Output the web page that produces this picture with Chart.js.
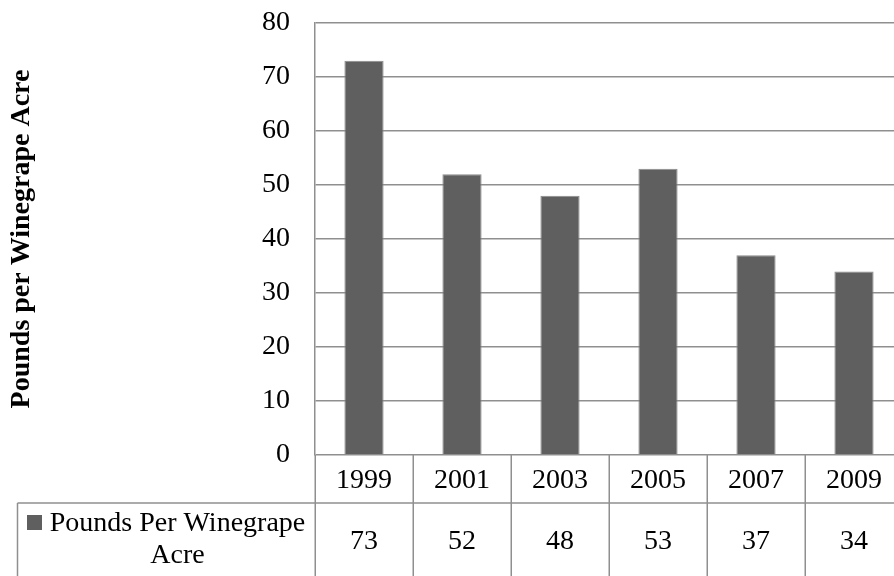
<!DOCTYPE html>
<html>
<head>
<meta charset="utf-8">
<script src="https://cdn.jsdelivr.net/npm/chart.js@4.4.1/dist/chart.umd.min.js"></script>
<style>
  html, body { margin: 0; padding: 0; background: #fff; overflow: hidden; }
  #wrap { width: 894px; height: 576px; overflow: hidden; }
</style>
</head>
<body>
<div id="wrap"><canvas id="grafico" width="910" height="576"></canvas></div>
<script>
// Dados do gráfico
const anos = ['1999', '2001', '2003', '2005', '2007', '2009'];
const librasPorAcre = [73, 52, 48, 53, 37, 34];
const nomeSerie = 'Pounds Per Winegrape Acre';
const tituloEixoY = 'Pounds per Winegrape Acre';

const corBarra = '#5f5f5f';
const corLinha = '#8f8f8f';
const fonte = '"Liberation Serif", "Times New Roman", serif';

// Tabela de dados embaixo do gráfico (anos + valores + legenda)
const tabelaDados = {
    id: 'tabelaDados',
    afterDraw(chart) {
        const ctx = chart.ctx;
        const area = chart.chartArea;
        const x = chart.scales.x;
        const largura = x.width / anos.length;
        const linhaMeio = 503;
        const fundo = chart.height + 2;

        ctx.save();
        ctx.strokeStyle = corLinha;
        ctx.lineWidth = 1.5;

        // linhas verticais das colunas
        for (let i = 0; i <= anos.length; i++) {
            const px = Math.round(area.left + i * largura) + 0.25;
            ctx.beginPath();
            ctx.moveTo(px, area.bottom);
            ctx.lineTo(px, fundo);
            ctx.stroke();
        }
        // linha entre anos e valores
        ctx.beginPath();
        ctx.moveTo(17.5, linhaMeio);
        ctx.lineTo(chart.width, linhaMeio);
        ctx.stroke();
        // borda esquerda da célula da legenda
        ctx.beginPath();
        ctx.moveTo(17.5, linhaMeio);
        ctx.lineTo(17.5, fundo);
        ctx.stroke();

        ctx.fillStyle = '#000';
        ctx.font = '28px ' + fonte;
        ctx.textAlign = 'center';
        ctx.textBaseline = 'middle';
        anos.forEach((ano, i) => {
            const cx = x.getPixelForValue(i);
            ctx.fillText(ano, cx, 481);
            ctx.fillText(String(librasPorAcre[i]), cx, 542);
        });

        // legenda da série
        ctx.fillStyle = corBarra;
        ctx.fillRect(27, 515, 15, 15);
        ctx.fillStyle = '#000';
        ctx.fillText('Pounds Per Winegrape', 177.5, 524);
        ctx.fillText('Acre', 177.5, 556);
        ctx.restore();
    }
};

new Chart(document.getElementById('grafico'), {
    type: 'bar',
    data: {
        labels: anos,
        datasets: [{
            label: nomeSerie,
            data: librasPorAcre,
            backgroundColor: corBarra,
            borderColor: '#8a8a8a',
            borderWidth: 1,
            categoryPercentage: 1,
            barPercentage: 0.4
        }]
    },
    options: {
        responsive: false,
        animation: false,
        layout: { padding: { left: 0, right: 7, top: 23, bottom: 121 } },
        plugins: {
            legend: { display: false },
            tooltip: { enabled: false }
        },
        scales: {
            x: { display: false },
            y: {
                min: 0,
                max: 80,
                ticks: {
                    stepSize: 10,
                    padding: 25,
                    color: '#000',
                    font: { family: fonte, size: 28 }
                },
                grid: { color: corLinha, lineWidth: 1.5, drawTicks: false },
                border: { display: true, color: corLinha, width: 1.5 },
                title: {
                    display: true,
                    text: tituloEixoY,
                    color: '#000',
                    padding: { top: 5 },
                    font: { family: fonte, size: 28, weight: 'bold' }
                },
                afterFit(scale) {
                    scale.width = 315;
                    // sem folga extra para o rótulo do topo
                    scale.paddingTop = 0;
                    scale.paddingBottom = 0;
                }
            }
        }
    },
    plugins: [tabelaDados]
});
</script>
</body>
</html>
